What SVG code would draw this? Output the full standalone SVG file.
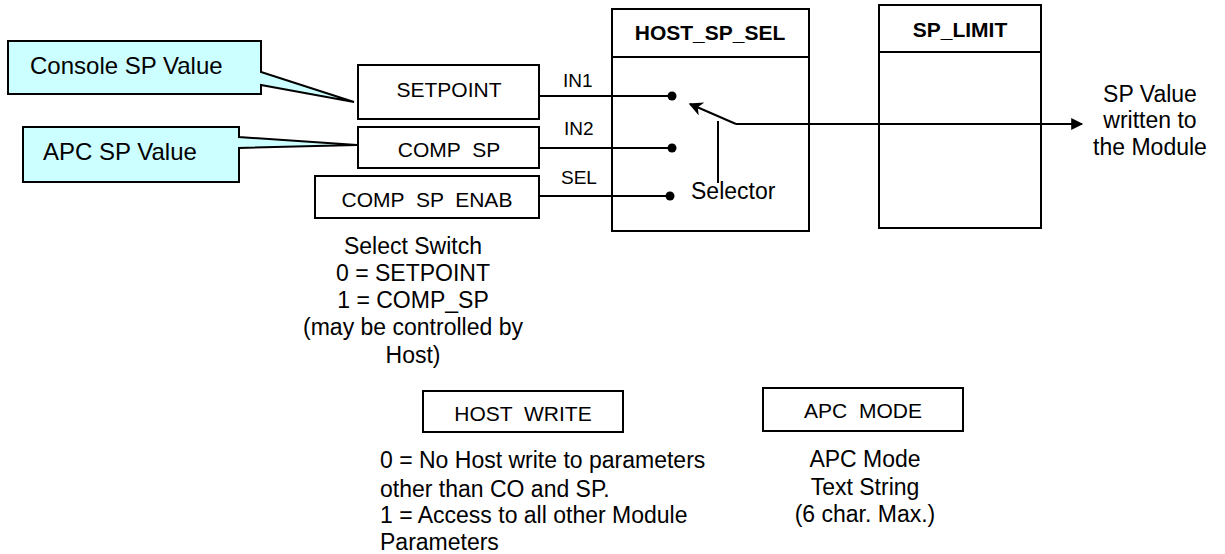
<svg xmlns="http://www.w3.org/2000/svg" width="1225" height="554" viewBox="0 0 1225 554">
<style>
text{font-family:"Liberation Sans",Arial,sans-serif;fill:#000}
.box{fill:#fff;stroke:#000;stroke-width:2}
.call{fill:#ccffff;stroke:#000;stroke-width:2;stroke-linejoin:miter}
.lbl{font-size:21px;text-anchor:middle}
.hdr{font-size:21px;font-weight:bold;text-anchor:middle}
.big{font-size:24px}
.note{font-size:23px}
.mid{text-anchor:middle}
.wire{stroke:#000;stroke-width:2;fill:none}
.pin{font-size:19px}
</style>
<defs>
<marker id="arr" viewBox="0 0 10 10" refX="9" refY="5" markerWidth="16" markerHeight="12" markerUnits="userSpaceOnUse" orient="auto">
<path d="M0,0 L10,5 L0,10 z" fill="#000"/>
</marker>
<marker id="arr2" viewBox="0 0 10 10" refX="9" refY="5" markerWidth="16" markerHeight="14" markerUnits="userSpaceOnUse" orient="auto">
<path d="M0,0 L10,5 L0,10 L3,5 z" fill="#000"/>
</marker>
</defs>
<rect width="1225" height="554" fill="#fff"/>

<g id="console-callout">
<path class="call" d="M8,41 H261 V72 L354,102 L261,85 V94 H8 Z"/>
<text class="big" x="30" y="74">Console SP Value</text>
</g>
<g id="apc-callout">
<path class="call" d="M23,127 H239 V137 L357,145 L239,148 V182 H23 Z"/>
<text class="big" x="43" y="160">APC SP Value</text>
</g>

<g id="setpoint">
<rect class="box" x="358" y="65" width="181" height="54"/>
<text class="lbl" x="449" y="97">SETPOINT</text>
</g>
<g id="comp-sp">
<rect class="box" x="358" y="127" width="181" height="41"/>
<text class="lbl" x="449" y="157" xml:space="preserve">COMP  SP</text>
</g>
<g id="comp-sp-enab">
<rect class="box" x="315" y="176" width="224" height="42"/>
<text class="lbl" x="427" y="207" xml:space="preserve">COMP  SP  ENAB</text>
</g>

<g id="host-sp-sel">
<rect class="box" x="612" y="9" width="197" height="222"/>
<line class="wire" x1="612" y1="57" x2="809" y2="57"/>
<text class="hdr" x="710" y="40">HOST_SP_SEL</text>
<circle cx="672" cy="96" r="4.5"/>
<circle cx="672" cy="148" r="4.5"/>
<circle cx="670" cy="196" r="4.5"/>
<text class="note" x="691" y="199">Selector</text>
</g>

<g id="sp-limit">
<rect class="box" x="879" y="5" width="162" height="223"/>
<line class="wire" x1="879" y1="52" x2="1041" y2="52"/>
<text class="hdr" x="960" y="37">SP_LIMIT</text>
</g>

<g id="connectors">
<line class="wire" x1="539" y1="96" x2="672" y2="96"/>
<line class="wire" x1="539" y1="148" x2="672" y2="148"/>
<line class="wire" x1="539" y1="196" x2="670" y2="196"/>
<path class="wire" d="M736,124 L690,104" marker-end="url(#arr2)"/>
<line class="wire" x1="718" y1="121" x2="718" y2="183"/>
<line class="wire" x1="736" y1="124" x2="1082" y2="124" marker-end="url(#arr)"/>
<text class="pin" x="563" y="87">IN1</text>
<text class="pin" x="564" y="135">IN2</text>
<text class="pin" x="561" y="184">SEL</text>
</g>

<g id="sp-out-label">
<text class="note mid" x="1150" y="102">SP Value</text>
<text class="note mid" x="1150" y="128">written to</text>
<text class="note mid" x="1150" y="155">the Module</text>
</g>

<g id="select-switch-note">
<text class="note mid" x="413" y="254">Select Switch</text>
<text class="note mid" x="413" y="281">0 = SETPOINT</text>
<text class="note mid" x="413" y="308">1 = COMP_SP</text>
<text class="note mid" x="413" y="335">(may be controlled by</text>
<text class="note mid" x="413" y="363">Host)</text>
</g>

<g id="host-write">
<rect class="box" x="423" y="391" width="200" height="41"/>
<text class="lbl" x="523" y="421" xml:space="preserve">HOST  WRITE</text>
</g>
<g id="host-write-note">
<text class="note" x="380" y="468">0 = No Host write to parameters</text>
<text class="note" x="380" y="497">other than CO and SP.</text>
<text class="note" x="380" y="523">1 = Access to all other Module</text>
<text class="note" x="380" y="550">Parameters</text>
</g>

<g id="apc-mode">
<rect class="box" x="763" y="388" width="200" height="43"/>
<text class="lbl" x="863" y="418" xml:space="preserve">APC  MODE</text>
</g>
<g id="apc-mode-note">
<text class="note mid" x="865" y="467">APC Mode</text>
<text class="note mid" x="865" y="495">Text String</text>
<text class="note mid" x="865" y="522">(6 char. Max.)</text>
</g>
</svg>
